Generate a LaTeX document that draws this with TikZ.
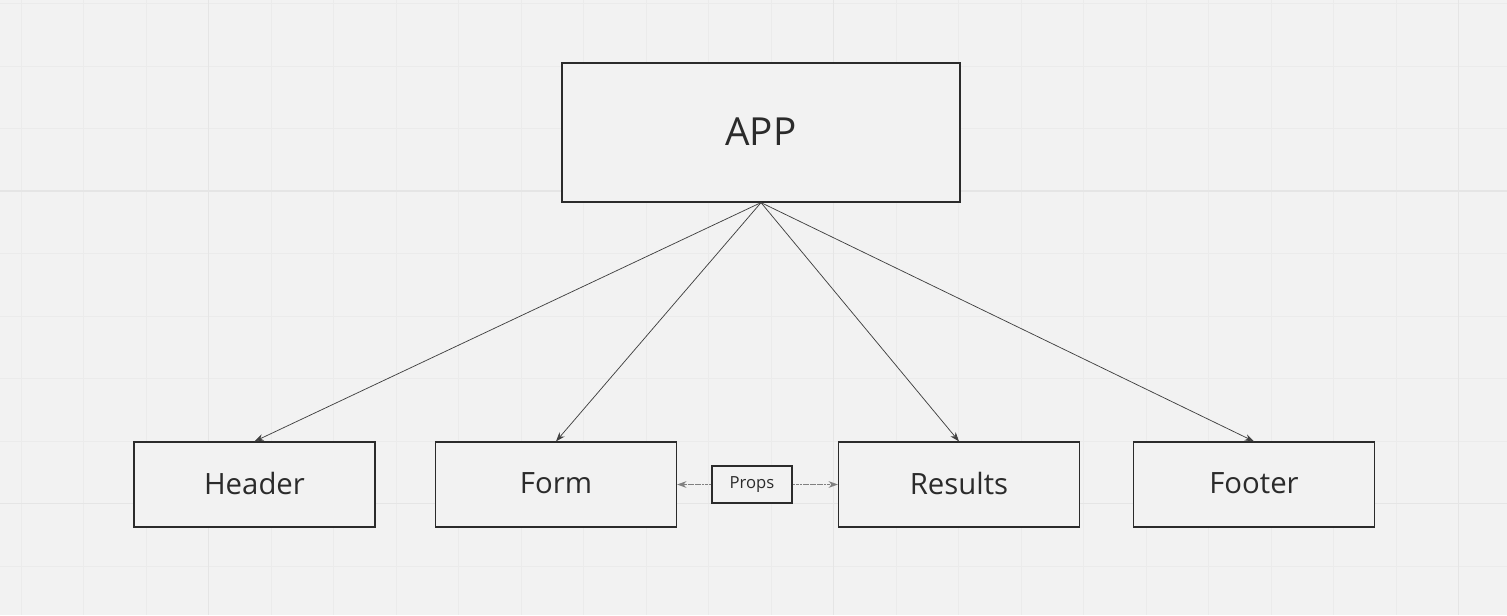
\documentclass[tikz,border=0pt]{standalone}
\usepackage{fontspec}
\setmainfont{Open Sans}
\usetikzlibrary{arrows.meta}
\definecolor{canvas}{HTML}{F2F2F2}
\definecolor{gridminor}{HTML}{EBEBEB}
\definecolor{gridmajor}{HTML}{E5E5E5}
\definecolor{ink}{HTML}{2B2B2B}
\tikzset{
  box/.style={draw=ink, line width=0.9pt, fill=canvas, inner sep=0pt,
              text=ink, font=\fontsize{22}{26}\selectfont},
  link/.style={draw=ink!90, line width=0.55pt, -{Stealth[length=7pt,width=5pt]}},
  proplink/.style={draw=ink!60, line width=0.9pt, dash pattern=on 2pt off 0.6pt,
                   -{Stealth[length=7pt,width=5pt]}}
}
\begin{document}
\begin{tikzpicture}[x=0.75pt,y=-0.75pt]
  % canvas and grid
  \fill[canvas] (0,0) rectangle (1507,615);
  \useasboundingbox (0,0) rectangle (1507,615);
  \foreach \i in {0,...,23} {
    \pgfmathsetmacro{\gx}{21+62.5*\i}
    \draw[gridminor, line width=0.75pt] (\gx,0) -- (\gx,615);
  }
  \foreach \i in {0,...,9} {
    \pgfmathsetmacro{\gy}{3.5+62.5*\i}
    \draw[gridminor, line width=0.75pt] (0,\gy) -- (1507,\gy);
  }
  \foreach \gx in {208.5,833.5,1458.5}
    \draw[gridmajor, line width=0.9pt] (\gx,0) -- (\gx,615);
  \foreach \gy in {191,503.5}
    \draw[gridmajor, line width=0.9pt] (0,\gy) -- (1507,\gy);

  % components
  \node[box, minimum width=298.5pt, minimum height=104.25pt,
        font=\fontsize{29}{34}\selectfont] (app) at (761,132.5) {\raisebox{2pt}{APP}};
  \node[box, minimum width=180.75pt, minimum height=63.75pt] (header)  at (254.5,484.5) {\raisebox{1.5pt}{Header}};
  \node[box, minimum width=180.75pt, minimum height=63.75pt] (form)    at (556,484.5) {\raisebox{1.5pt}{Form}};
  \node[box, minimum width=180.75pt, minimum height=63.75pt] (results) at (959,484.5) {\raisebox{1.5pt}{Results}};
  \node[box, minimum width=180.75pt, minimum height=63.75pt] (footer)  at (1254,484.5) {\raisebox{1.5pt}{Footer}};
  \node[box, minimum width=60pt, minimum height=27.75pt,
        font=\fontsize{12.5}{15}\selectfont] (props) at (752,484.5) {Props};

  % parent to children
  \foreach \c in {header,form,results,footer}
    \draw[link] (app.south) -- (\c.north);

  % props passed between siblings
  \draw[proplink] (props.west) -- (form.east);
  \draw[proplink] (props.east) -- (results.west);
\end{tikzpicture}
\end{document}
